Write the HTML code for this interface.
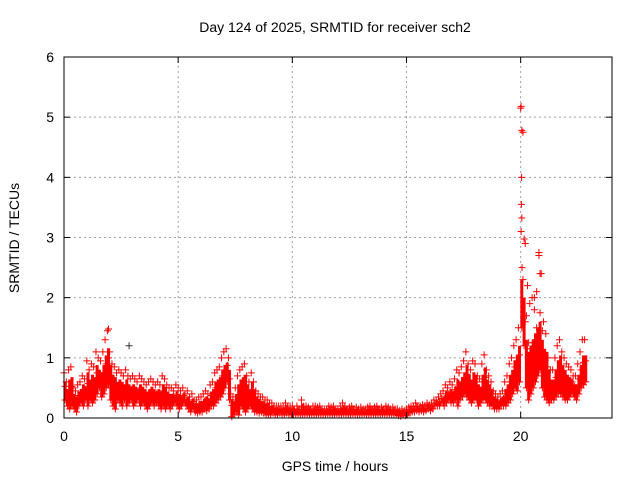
<!DOCTYPE html>
<html><head><meta charset="utf-8"><style>
body{margin:0;background:#fff}
svg text{font-family:"Liberation Sans",sans-serif;font-size:14px;fill:#000}
</style></head><body>
<svg id="chart" width="640" height="480" xmlns="http://www.w3.org/2000/svg">
<text x="335" y="32" text-anchor="middle">Day 124 of 2025, SRMTID for receiver sch2</text>
<text x="335" y="471" text-anchor="middle">GPS time / hours</text>
<text transform="translate(19,238) rotate(-90)" text-anchor="middle">SRMTID / TECUs</text>
<g id="grid"></g>
<g id="marks"></g>
<rect x="64" y="57" width="548" height="361" fill="none" stroke="#000" stroke-width="1"/>
<g id="ticks"></g>
</svg>
<script>
const xTicks=[0,5,10,15,20];
const yTicks=[0,1,2,3,4,5,6];
const step=0.1;
const hiVals=[0.75,0.6,0.8,0.85,0.5,0.45,0.55,0.6,0.7,0.65,
0.95,0.8,0.9,0.85,1.1,1.0,0.95,1.1,1.3,1.45,
1.1,0.9,0.85,0.75,0.8,0.75,0.7,0.8,0.7,0.65,
0.7,0.65,0.6,0.7,0.65,0.6,0.55,0.6,0.65,0.6,
0.55,0.6,0.55,0.7,0.65,0.55,0.5,0.5,0.45,0.55,
0.5,0.45,0.5,0.4,0.45,0.35,0.4,0.3,0.3,0.35,
0.35,0.4,0.45,0.4,0.55,0.6,0.75,0.8,0.85,1.0,
1.1,1.15,1.0,0.4,0.35,0.5,0.7,0.8,0.85,0.9,
0.7,0.6,0.75,0.6,0.45,0.4,0.35,0.35,0.3,0.3,
0.25,0.25,0.2,0.2,0.2,0.2,0.2,0.25,0.2,0.2,
0.2,0.15,0.2,0.15,0.3,0.2,0.2,0.18,0.15,0.2,
0.2,0.18,0.2,0.15,0.15,0.15,0.2,0.18,0.2,0.15,
0.15,0.2,0.25,0.2,0.15,0.18,0.2,0.15,0.18,0.15,
0.18,0.15,0.15,0.18,0.2,0.15,0.18,0.2,0.15,0.18,
0.15,0.2,0.18,0.15,0.18,0.15,0.15,0.12,0.15,0.12,
0.15,0.18,0.2,0.2,0.25,0.2,0.2,0.22,0.2,0.25,
0.22,0.25,0.3,0.3,0.35,0.4,0.45,0.55,0.5,0.6,
0.55,0.65,0.8,0.75,0.85,0.95,1.1,0.9,0.8,0.95,
0.9,0.7,0.65,0.9,1.05,0.8,0.7,0.6,0.45,0.4,
0.35,0.4,0.45,0.6,0.7,0.9,1.0,1.2,1.3,1.5,
5.15,4.75,2.9,2.2,1.9,2.0,2.0,2.1,2.7,2.4,
1.6,1.4,1.0,0.8,0.8,1.0,1.2,1.3,1.1,1.0,
0.9,0.85,0.8,0.7,0.7,0.9,1.1,1.3,1.3];
const loVals=[0.3,0.2,0.15,0.2,0.15,0.1,0.2,0.25,0.2,0.3,
0.2,0.3,0.25,0.3,0.4,0.5,0.35,0.4,0.5,0.55,
0.3,0.2,0.15,0.3,0.25,0.2,0.3,0.2,0.25,0.3,
0.2,0.25,0.3,0.2,0.25,0.2,0.15,0.2,0.25,0.2,
0.25,0.2,0.15,0.2,0.15,0.2,0.15,0.2,0.25,0.2,
0.15,0.2,0.25,0.2,0.15,0.1,0.15,0.1,0.08,0.1,
0.1,0.15,0.12,0.15,0.2,0.2,0.25,0.3,0.35,0.4,
0.5,0.6,0.3,0.02,0.05,0.1,0.05,0.2,0.15,0.1,
0.15,0.2,0.15,0.1,0.1,0.08,0.1,0.08,0.05,0.05,
0.05,0.08,0.05,0.05,0.08,0.05,0.05,0.08,0.05,0.05,
0.06,0.05,0.07,0.05,0.06,0.05,0.07,0.05,0.06,0.05,
0.05,0.07,0.05,0.06,0.05,0.07,0.05,0.06,0.05,0.07,
0.06,0.05,0.07,0.05,0.06,0.05,0.07,0.05,0.06,0.05,
0.05,0.07,0.05,0.06,0.05,0.07,0.05,0.06,0.05,0.07,
0.06,0.05,0.07,0.05,0.06,0.05,0.04,0.03,0.05,0.04,
0.05,0.08,0.1,0.1,0.12,0.1,0.12,0.1,0.12,0.15,
0.12,0.15,0.2,0.2,0.2,0.25,0.2,0.25,0.3,0.25,
0.25,0.3,0.2,0.3,0.35,0.4,0.35,0.3,0.25,0.3,
0.3,0.2,0.25,0.3,0.3,0.25,0.2,0.2,0.15,0.15,
0.15,0.2,0.2,0.2,0.25,0.3,0.4,0.5,0.45,0.6,
1.5,1.2,0.5,0.3,0.4,0.5,0.6,0.7,0.8,0.5,
0.35,0.3,0.25,0.3,0.3,0.35,0.4,0.4,0.35,0.3,
0.3,0.35,0.4,0.35,0.3,0.4,0.5,0.55,0.6];
const extraT=[2.85,20.02,20.05,20.04,20.03,20.02,20.06,20.8,20.85,1.95,20.1,20.2,20.6,20.7];
const extraV=[1.2,5.18,4.78,4.0,3.55,3.1,2.5,2.75,2.4,1.48,2.3,1.6,1.8,1.5];
const NS="http://www.w3.org/2000/svg";
const X0=64,X1=612,Y0=418,Y1=57;
const xs=t=>X0+(t/24)*(X1-X0);
const ys=v=>Y0-(v/6)*(Y0-Y1);
function mk(tag,attrs,parent){const e=document.createElementNS(NS,tag);for(const k in attrs)e.setAttribute(k,attrs[k]);parent.appendChild(e);return e;}
const grid=document.getElementById('grid'),ticks=document.getElementById('ticks'),marks=document.getElementById('marks');
xTicks.forEach(t=>{
 const x=xs(t);
 if(t>0){const g=mk('line',{x1:x,x2:x,y1:Y0,y2:Y1,stroke:'#a0a0a0','stroke-dasharray':'2,3'},grid);
 
 }
 const a=mk('line',{x1:x,x2:x,y1:Y0,y2:Y0-6,stroke:'#000'},ticks);
 
 
 const b=mk('line',{x1:x,x2:x,y1:Y1,y2:Y1+6,stroke:'#000'},ticks);
 
 
 const l=mk('text',{x:x,y:Y0+23,'text-anchor':'middle'},ticks);l.textContent=t;
 
 
});
yTicks.forEach(v=>{
 const y=ys(v);
 if(v>0&&v<6){const g=mk('line',{x1:X0,x2:X1,y1:y,y2:y,stroke:'#a0a0a0','stroke-dasharray':'2,3'},grid);
 
 }
 const a=mk('line',{x1:X0,x2:X0+6,y1:y,y2:y,stroke:'#000'},ticks);
 
 
 const b=mk('line',{x1:X1,x2:X1-6,y1:y,y2:y,stroke:'#000'},ticks);
 
 
 const l=mk('text',{x:X0-10,y:y+5,'text-anchor':'end'},ticks);l.textContent=v;
 
 
});
function cross(t,v,col){
 const x=xs(t),y=ys(v);
 const p=mk('path',{d:`M${x-3.5},${y}h7M${x},${y-3.5}v7`,stroke:col,'stroke-width':1,fill:'none'},marks);
 
 
}
hiVals.forEach((h,i)=>{
 const t=i*step,lo=loVals[i];
 const top=Math.min(Math.max(lo,h*0.8),lo+0.8);
 const band=mk('line',{x1:xs(t+0.05),x2:xs(t+0.05),y1:ys(lo),y2:ys(top),stroke:'#ff0000','stroke-width':3},marks);
 
 
 cross(t,h,'#ff0000');cross(t+0.05,lo,'#ff0000');
 cross(t+0.05,(h+lo)/2,'#ff0000');
});
extraT.forEach((t,i)=>cross(t,extraV[i],i===0?'#333':'#ff0000'));
</script>
</body></html>
